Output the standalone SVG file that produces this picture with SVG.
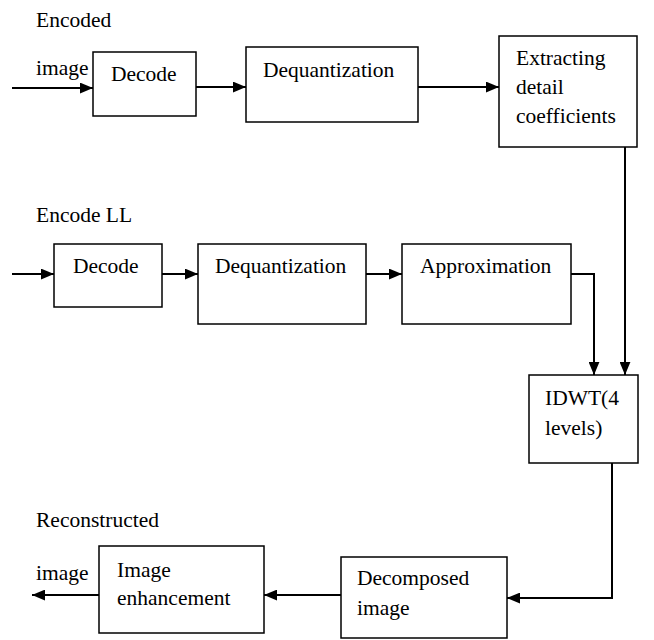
<svg xmlns="http://www.w3.org/2000/svg" width="654" height="640" viewBox="0 0 654 640">
<defs>
<style>
.box{fill:#fff;stroke:#000;stroke-width:1.5}
.c{fill:none;stroke:#000;stroke-width:2}
</style>
<marker id="ah" viewBox="0 0 12 10" refX="12" refY="5" markerWidth="13" markerHeight="11" markerUnits="userSpaceOnUse" orient="auto">
<path d="M0,0 L12,5 L0,10 z" fill="#000"/>
</marker>
</defs>
<rect width="654" height="640" fill="#fff"/>
<g font-family="Liberation Serif, Times New Roman, serif" font-size="21.5" fill="#000">
<g id="labels">
<text x="36" y="27">Encoded</text>
<text x="36" y="75">image</text>
<text x="36" y="222">Encode LL</text>
<text x="36" y="527">Reconstructed</text>
<text x="36" y="580">image</text>
</g>
<g id="connectors">
<line class="c" x1="12" y1="88" x2="93" y2="88" marker-end="url(#ah)"/>
<line class="c" x1="196" y1="87" x2="246" y2="87" marker-end="url(#ah)"/>
<line class="c" x1="418" y1="87" x2="499" y2="87" marker-end="url(#ah)"/>
<line class="c" x1="625" y1="147" x2="625" y2="375" marker-end="url(#ah)"/>
<line class="c" x1="12" y1="274" x2="54" y2="274" marker-end="url(#ah)"/>
<line class="c" x1="162" y1="274" x2="198" y2="274" marker-end="url(#ah)"/>
<line class="c" x1="366" y1="274" x2="402" y2="274" marker-end="url(#ah)"/>
<polyline class="c" points="571,274 594,274 594,375" marker-end="url(#ah)"/>
<polyline class="c" points="612,463 612,598 507,598" marker-end="url(#ah)"/>
<line class="c" x1="341" y1="595" x2="264" y2="595" marker-end="url(#ah)"/>
<line class="c" x1="99" y1="595" x2="32" y2="595" marker-end="url(#ah)"/>
</g>
<g id="decode1">
<rect class="box" x="93" y="52" width="103" height="64"/>
<text x="111" y="81">Decode</text>
</g>
<g id="dequant1">
<rect class="box" x="246" y="47" width="172" height="75"/>
<text x="263" y="77">Dequantization</text>
</g>
<g id="extract">
<rect class="box" x="499" y="36" width="138" height="111"/>
<text x="516" y="65">Extracting</text>
<text x="516" y="94">detail</text>
<text x="516" y="123">coefficients</text>
</g>
<g id="decode2">
<rect class="box" x="54" y="244" width="108" height="63"/>
<text x="73" y="273">Decode</text>
</g>
<g id="dequant2">
<rect class="box" x="198" y="244" width="168" height="80"/>
<text x="215" y="273">Dequantization</text>
</g>
<g id="approx">
<rect class="box" x="402" y="244" width="169" height="80"/>
<text x="420" y="273">Approximation</text>
</g>
<g id="idwt">
<rect class="box" x="529" y="375" width="109" height="88"/>
<text x="545" y="405">IDWT(4</text>
<text x="545" y="435">levels)</text>
</g>
<g id="decomposed">
<rect class="box" x="341" y="557" width="166" height="81"/>
<text x="357" y="585">Decomposed</text>
<text x="357" y="615">image</text>
</g>
<g id="enhance">
<rect class="box" x="99" y="546" width="165" height="87"/>
<text x="117" y="577">Image</text>
<text x="117" y="605">enhancement</text>
</g>
</g>
</svg>
